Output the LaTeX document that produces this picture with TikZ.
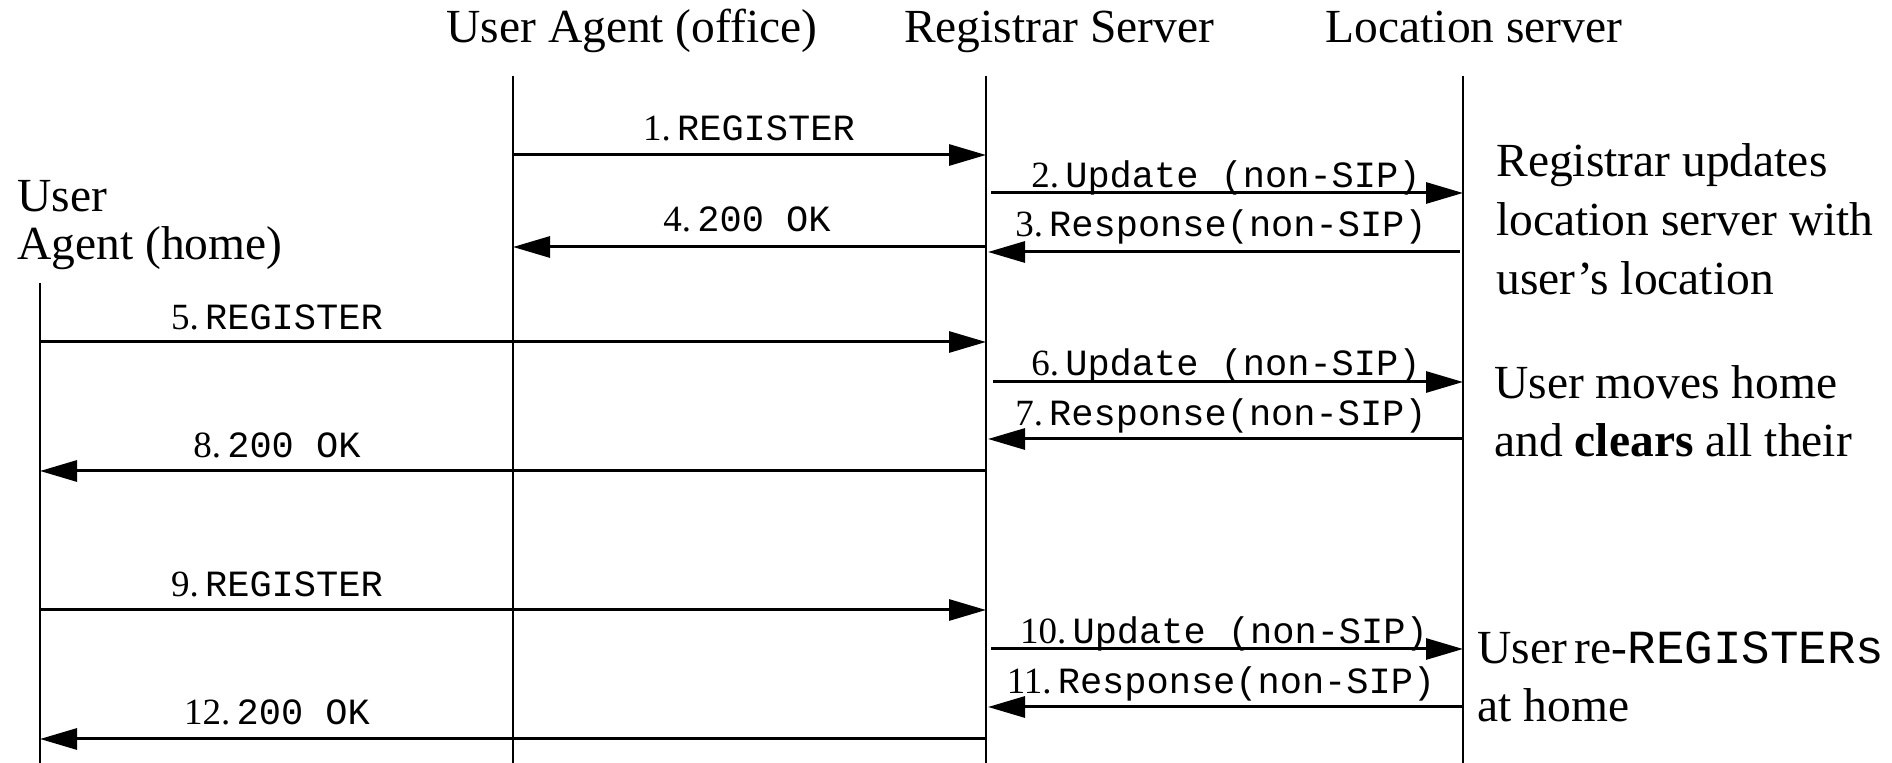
\documentclass[tikz,border=0pt]{standalone}
\usepackage{fontspec}
\setmainfont{Liberation Serif}
\setmonofont{Liberation Mono}
\usetikzlibrary{arrows.meta}
\begin{document}
\begin{tikzpicture}[x=0.5pt,y=-0.5pt,
  life/.style={line width=1pt},
  msg/.style={line width=1.5pt,-{Triangle[length=18.5pt,width=10.5pt]}},
  title/.style={font=\fontsize{23.75}{28}\selectfont,anchor=base,inner sep=0pt},
  note/.style={font=\fontsize{23.75}{28}\selectfont,anchor=base west,inner sep=0pt},
  lbl/.style={font=\fontsize{18.5}{22}\selectfont,anchor=base,inner sep=0pt}]
\useasboundingbox (0,0) rectangle (1892,763);

% titles
\node[title] (tOff) at (632,43) {User Agent (office)};
\node[title] (tReg) at (1059,43) {Registrar Server};
\node[title] (tLoc) at (1474,43) {Location server};
\node[note] (tHome1) at (17,212) {User};
\node[note] (tHome2) at (17,260) {Agent (home)};

% lifelines
\coordinate (hT) at (40,283);  \coordinate (hB) at (40,763);
\coordinate (oT) at (513,76);  \coordinate (oB) at (513,763);
\coordinate (rT) at (986,76);  \coordinate (rB) at (986,763);
\coordinate (lT) at (1463,76); \coordinate (lB) at (1463,763);
\draw[life] (hT) -- (hB);
\draw[life] (oT) -- (oB);
\draw[life] (rT) -- (rB);
\draw[life] (lT) -- (lB);

% message end points
\coordinate (m1a) at (513,155);  \coordinate (m1b) at (986,155);
\coordinate (m2a) at (991,193);  \coordinate (m2b) at (1463,193);
\coordinate (m3a) at (1460,252); \coordinate (m3b) at (988,252);
\coordinate (m4a) at (986,247);  \coordinate (m4b) at (513,247);
\coordinate (m5a) at (40,342);   \coordinate (m5b) at (986,342);
\coordinate (m6a) at (993,382);  \coordinate (m6b) at (1463,382);
\coordinate (m7a) at (1463,439); \coordinate (m7b) at (988,439);
\coordinate (m8a) at (986,471);  \coordinate (m8b) at (40,471);
\coordinate (m9a) at (40,610);   \coordinate (m9b) at (986,610);
\coordinate (m10a) at (991,649); \coordinate (m10b) at (1463,649);
\coordinate (m11a) at (1463,707);\coordinate (m11b) at (988,707);
\coordinate (m12a) at (986,739); \coordinate (m12b) at (40,739);

\draw[msg] (m1a) -- (m1b);
\draw[msg] (m2a) -- (m2b);
\draw[msg] (m3a) -- (m3b);
\draw[msg] (m4a) -- (m4b);
\draw[msg] (m5a) -- (m5b);
\draw[msg] (m6a) -- (m6b);
\draw[msg] (m7a) -- (m7b);
\draw[msg] (m8a) -- (m8b);
\draw[msg] (m9a) -- (m9b);
\draw[msg] (m10a) -- (m10b);
\draw[msg] (m11a) -- (m11b);
\draw[msg] (m12a) -- (m12b);

% labels
\node[lbl] (l1) at (749,141) {1.\,\texttt{REGISTER}};
\node[lbl] (l2) at (1226,188) {2.\,\texttt{Update (non-SIP)}};
\node[lbl] (l3) at (1221,237) {3.\,\texttt{Response(non-SIP)}};
\node[lbl] (l4) at (747,232) {4.\,\texttt{200 OK}};
\node[lbl] (l5) at (277,330) {5.\,\texttt{REGISTER}};
\node[lbl] (l6) at (1226,376) {6.\,\texttt{Update (non-SIP)}};
\node[lbl] (l7) at (1221,426) {7.\,\texttt{Response(non-SIP)}};
\node[lbl] (l8) at (277,458) {8.\,\texttt{200 OK}};
\node[lbl] (l9) at (277,597) {9.\,\texttt{REGISTER}};
\node[lbl] (l10) at (1224,644) {10.\,\texttt{Update (non-SIP)}};
\node[lbl] (l11) at (1221,694) {11.\,\texttt{Response(non-SIP)}};
\node[lbl] (l12) at (277,725) {12.\,\texttt{200 OK}};

% notes
\node[note] (n1) at (1496,177) {Registrar updates};
\node[note] (n2) at (1496,236) {location server with};
\node[note] (n3) at (1496,295) {user’s location};
\node[note] (n4) at (1494,399) {User moves home};
\node[note] (n5) at (1494,457) {and \textbf{clears} all their};
\node[note] (n6) at (1477,664) {User\,re-\texttt{REGISTERs}};
\node[note] (n7) at (1477,722) {at home};
\end{tikzpicture}
\end{document}
